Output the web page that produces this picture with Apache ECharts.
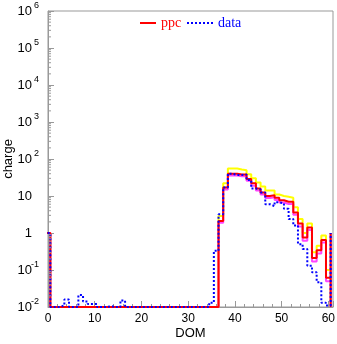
<!DOCTYPE html>
<html><head><meta charset="utf-8">
<script src="https://cdn.jsdelivr.net/npm/echarts@6/dist/echarts.min.js"></script>
<style>html,body{margin:0;padding:0;background:#fff}#c{width:337px;height:344px}</style>
</head><body><div id="c"></div>
<script>
// DOM index 0..60
const ppc = [1,
  0,0,0,0,0,0,0,0,0,0,
  0,0,0,0,0,0,0,0,0,0,
  0,0,0,0,0,0,0,0,0,0,
  0,0,0,0,0,0,
  2.1,17,40,40,38,38,29,22,16,12.5,10,10.5,9,7.7,7,7,3.6,1.8,0.75,1.4,0.21,0.34,0.65,0.062];
const dataVals = [1,
  0,0,0.011,0.016,0,0,0.021,0.014,0.012,0.012,
  0,0,0.0105,0,0,0.015,0,0,0,0,
  0,0,0,0,0,0,0,0,0,0,
  0,0,0,0,0.013,0.33,
  3.2,17,40,37,37,38,27,16,15,12.5,6,5.3,6.8,6.3,4.5,2.4,1.6,0.5,0.37,0.13,0.087,0.047,0.013,0.011];
const upper = [1,
  0,0,0,0,0,0,0,0,0,0,
  0,0,0,0,0,0,0,0,0,0,
  0,0,0,0,0,0,0,0,0,0,
  0,0,0,0,0,0,
  2.9,22,55,55,52,50,39,30,23,18,14,14,11,10,9.5,9,5,2.4,1.0,1.8,0.3,0.45,0.85,0.1];
const lower = [1,
  0,0,0,0,0,0,0,0,0,0,
  0,0,0,0,0,0,0,0,0,0,
  0,0,0,0,0,0,0,0,0,0,
  0,0,0,0,0,0,
  1.9,15,36,36,34,34,26,19,14,11,8.8,9.2,7.8,6.7,6.1,6.1,3.1,1.5,0.62,1.2,0.17,0.28,0.55,0.05];
const closingValue = 1;      // vertical closing line at the upper histogram edge
const xTicks = [0,10,20,30,40,50,60];
const yExponents = [-2,-1,0,1,2,3,4,5,6];

const FLOOR = 0.01;
function histPoints(vals){
  const pts = [[-0.5, FLOOR]];
  vals.forEach((v,i)=>{
    const y = v > FLOOR ? v : FLOOR;
    pts.push([i-0.5, y],[i+0.5, y]);
  });
  const last = vals.length - 0.5;
  pts.push([last, closingValue],[last, FLOOR]);
  return pts;
}
const minorVals = [];
for (let e=-2;e<6;e++) for (let k=2;k<10;k++) minorVals.push([0, k*Math.pow(10,e)]);

const chart = echarts.init(document.getElementById('c'), null, {renderer:'canvas'});
const axisColor = '#999';
const sans = 'Liberation Sans, Arial, sans-serif';
const serif = 'Liberation Serif, Times New Roman, serif';
function lineSeries(name, vals, color, type, z){
  return {name, type:'line', data: histPoints(vals), symbol:'none', clip:true, z,
    lineStyle:{color, width:2, type}, itemStyle:{color}, animation:false, silent:true};
}
const solidIcon = 'path://M0,0H16V2H0Z';
const dotIcon = 'path://M0,0h2v2h-2zM4,0h2v2h-2zM8,0h2v2h-2zM12,0h2v2h-2zM16,0h2v2h-2zM20,0h2v2h-2zM24,0h2v2h-2z';
chart.setOption({
  animation:false,
  grid:{left:48, right:4, top:11, bottom:37, show:true, borderColor:axisColor, borderWidth:1,
        containLabel:false, outerBoundsMode:'none'},
  legend:[
    {data:[{name:'ppc', icon:solidIcon, textStyle:{color:'#ff0000'}}], left:140, top:16, padding:0, itemWidth:16, itemHeight:2,
     textStyle:{fontFamily:serif, fontSize:14}},
    {data:[{name:'data', icon:dotIcon, textStyle:{color:'#0000ff'}}], left:187, top:16, padding:0, itemWidth:26, itemHeight:2,
     textStyle:{fontFamily:serif, fontSize:14}}
  ],
  xAxis:{type:'value', min:0, max:61, interval:10,
    name:'DOM', nameLocation:'middle', nameGap:20, nameMoveOverlap:false,
    nameTextStyle:{fontFamily:sans, fontSize:13, color:'#000'},
    axisLine:{lineStyle:{color:axisColor}},
    axisTick:{inside:true, length:6, lineStyle:{color:axisColor}},
    minorTick:{show:true, splitNumber:5, length:3, lineStyle:{color:axisColor}},
    splitLine:{show:false},
    axisLabel:{fontFamily:sans, fontSize:12, color:'#000', margin:6,
      formatter:v=> xTicks.includes(v) ? String(v) : ''}},
  yAxis:{type:'log', min:FLOOR, max:1e6, logBase:10,
    name:'charge', nameLocation:'middle', nameGap:33, nameRotate:90, nameMoveOverlap:false,
    nameTextStyle:{fontFamily:sans, fontSize:13, color:'#000'},
    axisLine:{show:true, lineStyle:{color:axisColor}},
    axisTick:{inside:true, length:6, lineStyle:{color:axisColor}},
    splitLine:{show:false},
    axisLabel:{margin:9, align:'right',
      formatter:v=>{
        const e = Math.round(Math.log10(v));
        if (!yExponents.includes(e)) return '';
        if (e===0) return '{b|1}{s|}';
        if (e===1) return '{b|10}{s|}';
        return '{b|10}{s|'+e+'}';
      },
      rich:{
        b:{fontFamily:sans, fontSize:13, lineHeight:13, color:'#000', verticalAlign:'bottom'},
        s:{fontFamily:sans, fontSize:9, lineHeight:9, color:'#000', verticalAlign:'bottom', padding:[0,0,7,1], width:6}
      }}},
  series:[
    lineSeries('upper', upper, '#ffff00', 'solid', 1),
    lineSeries('lower', lower, '#ff44ff', 'solid', 2),
    lineSeries('ppc', ppc, '#ff0000', 'solid', 3),
    lineSeries('data', dataVals, '#0000ff', [2,2], 4),
    {type:'custom', data:minorVals, silent:true, z:5, clip:false,
     renderItem:(params, api)=>{
       const p = api.coord([0, api.value(1)]);
       return {type:'line', shape:{x1:p[0], y1:p[1], x2:p[0]+3, y2:p[1]}, style:{stroke:axisColor, lineWidth:1}};
     }}
  ]
});
</script></body></html>
